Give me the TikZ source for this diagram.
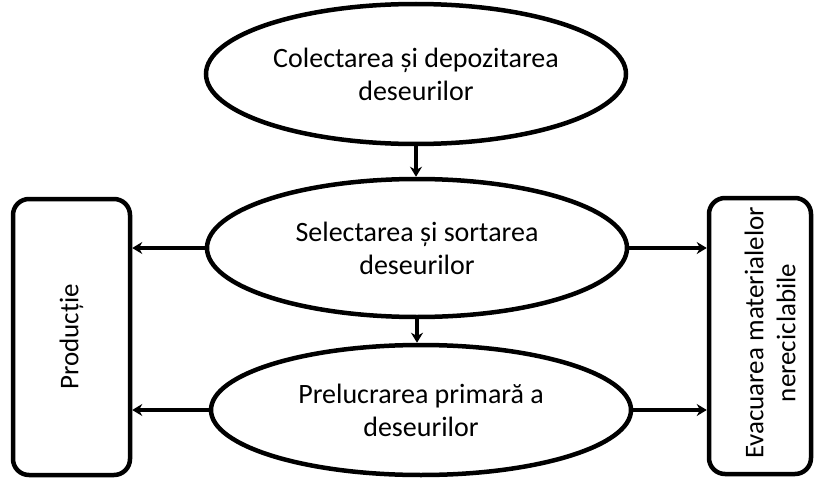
\documentclass[tikz,border=0pt]{standalone}
\usepackage{fontspec}
\setmainfont{Carlito}
\usetikzlibrary{shapes.geometric,arrows.meta}
\begin{document}
\begin{tikzpicture}[x=1pt,y=-1pt,
  ell/.style={draw,ellipse,line width=4.5pt,inner sep=0pt,align=center,
    font=\fontsize{28}{33}\selectfont},
  sidebox/.style={draw,rounded corners=16pt,line width=4.5pt,inner sep=0pt},
  conn/.style={line width=4pt,-{Stealth[length=10pt,width=12pt]}},
  vlabel/.style={rotate=90,align=center,font=\fontsize{27}{32}\selectfont}]
\useasboundingbox (0,0) rectangle (815,479);
\node[ell,minimum width=420pt,minimum height=140pt] (e1) at (416,74) {Colectarea și depozitarea\\deseurilor};
\node[ell,minimum width=420pt,minimum height=138pt] (e2) at (417,248) {Selectarea și sortarea\\deseurilor};
\node[ell,minimum width=420pt,minimum height=130pt] (e3) at (421,410) {Prelucrarea primară a\\deseurilor};
\node[sidebox,minimum width=117pt,minimum height=276pt] (p) at (71.5,337) {};
\node[vlabel] (pt) at (p.center) {Producție};
\node[sidebox,minimum width=102pt,minimum height=276pt] (ev) at (760,336) {};
\node[vlabel] (evt) at (770,333) {Evacuarea materialelor\\nereciclabile};
\draw[conn] (e1.south) -- (e1.south |- e2.north);
\draw[conn] (e2.south) -- (e2.south |- e3.north);
\draw[conn] (e2.west) -- (e2.west -| p.east);
\draw[conn] (e3.west) -- (e3.west -| p.east);
\draw[conn] (e2.east) -- (e2.east -| ev.west);
\draw[conn] (e3.east) -- (e3.east -| ev.west);
\end{tikzpicture}
\end{document}
